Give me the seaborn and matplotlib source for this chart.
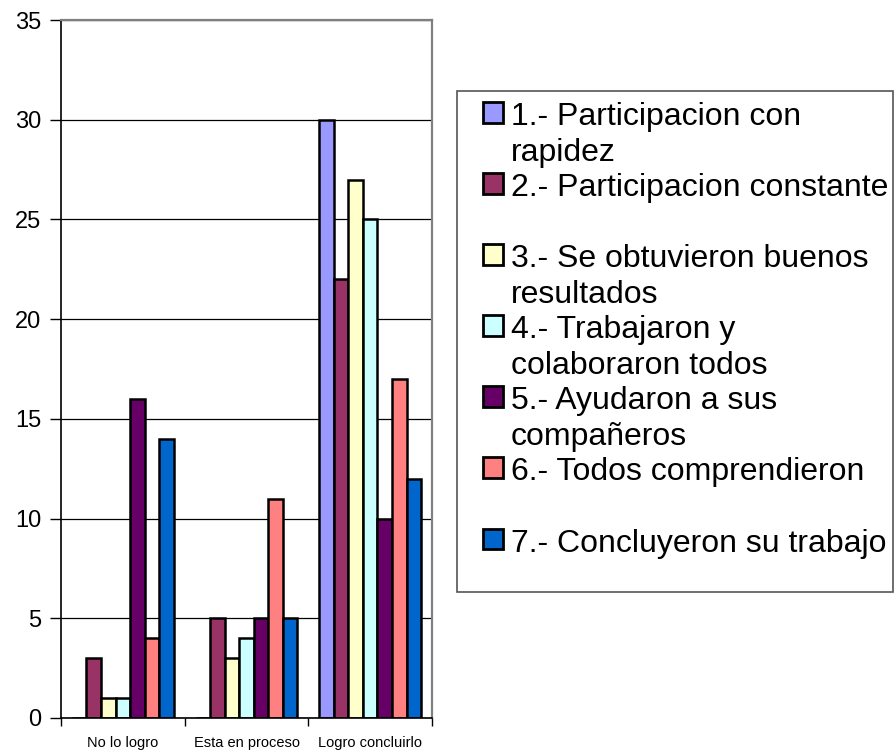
import matplotlib
matplotlib.use("Agg")
import matplotlib.pyplot as plt
import matplotlib.patches as mpatches
from matplotlib.ticker import FixedLocator, NullFormatter
import seaborn as sns
import pandas as pd

categories = ["No lo logro", "Esta en proceso", "Logro concluirlo"]
series_names = [
    "1.- Participacion con\nrapidez",
    "2.- Participacion constante\n ",
    "3.- Se obtuvieron buenos\nresultados",
    "4.- Trabajaron y\ncolaboraron todos",
    "5.- Ayudaron a sus\ncompañeros",
    "6.- Todos comprendieron\n ",
    "7.- Concluyeron su trabajo\n ",
]
s1 = [0, 0, 30]
s2 = [3, 5, 22]
s3 = [1, 3, 27]
s4 = [1, 4, 25]
s5 = [16, 5, 10]
s6 = [4, 11, 17]
s7 = [14, 5, 12]
series_values = [s1, s2, s3, s4, s5, s6, s7]
colors = ["#9999FF", "#993366", "#FFFFCC", "#CCFFFF", "#660066", "#FF8080", "#0066CC"]
yticks = [0, 5, 10, 15, 20, 25, 30, 35]

rows = []
for name, vals in zip(series_names, series_values):
    for c, v in zip(categories, vals):
        rows.append({"cat": c, "serie": name, "val": v})
df = pd.DataFrame(rows)

sns.set_theme(style="white")
plt.rcParams["font.family"] = ["Liberation Sans", "DejaVu Sans"]
plt.rcParams["text.color"] = "black"
plt.rcParams["xtick.color"] = "black"
plt.rcParams["ytick.color"] = "black"

W, H = 894, 753
fig = plt.figure(figsize=(W / 100, H / 100), dpi=100)
L, R, T, B = 61, 432, 20, 718
ax = fig.add_axes([L / W, 1 - B / H, (R - L) / W, (B - T) / H])

sns.barplot(data=df, x="cat", y="val", hue="serie", order=categories,
            hue_order=series_names, palette=colors, width=7 / 8.5,
            edgecolor="black", linewidth=1.8, saturation=1, ax=ax, legend=True)

ax.set_xlim(-0.5, 2.5)
ax.set_ylim(0, 35)
ax.set_yticks(yticks)
ax.set_yticklabels([str(t) for t in yticks], fontsize=17)
ax.yaxis.grid(True, color="black", linewidth=0.9)
ax.set_axisbelow(True)
ax.set_xlabel("")
ax.set_ylabel("")
ax.tick_params(axis="y", which="major", length=8, width=1, color="black", direction="out", left=True, pad=6)
ax.tick_params(axis="x", which="major", length=0, labelsize=10.5, pad=13)
ax.xaxis.set_minor_locator(FixedLocator([-0.5, 0.5, 1.5, 2.5]))
ax.xaxis.set_minor_formatter(NullFormatter())
ax.tick_params(axis="x", which="minor", length=6, width=1, color="black", direction="out", bottom=True)
for side in ["left", "bottom"]:
    ax.spines[side].set_color("black")
    ax.spines[side].set_linewidth(1.2)
for side in ["top", "right"]:
    ax.spines[side].set_color("#808080")
    ax.spines[side].set_linewidth(1.6)

handles, labels = ax.get_legend_handles_labels()
ax.get_legend().remove()
fig.patches.append(mpatches.Rectangle((457 / W, 1 - 592 / H), (893 - 457) / W, (592 - 91) / H,
                                      transform=fig.transFigure, facecolor="white",
                                      edgecolor="#555555", linewidth=1.2))
leg = fig.legend(handles, labels, loc="upper left",
                 bbox_to_anchor=(483 / W, 1 - 102 / H), bbox_transform=fig.transFigure,
                 frameon=False, fontsize=23, handlelength=0.63, handleheight=0.63,
                 handletextpad=0.25, labelspacing=0.16, borderpad=0, borderaxespad=0)
for t in leg.get_texts():
    t.set_linespacing(1.26)
    t.set_color("black")
for h in leg.legend_handles:
    h.set_edgecolor("black")
    h.set_linewidth(2)
for col in leg._legend_handle_box.get_children():
    for row in col.get_children():
        row.align = "top"

fig.savefig("out.png", dpi=100)
